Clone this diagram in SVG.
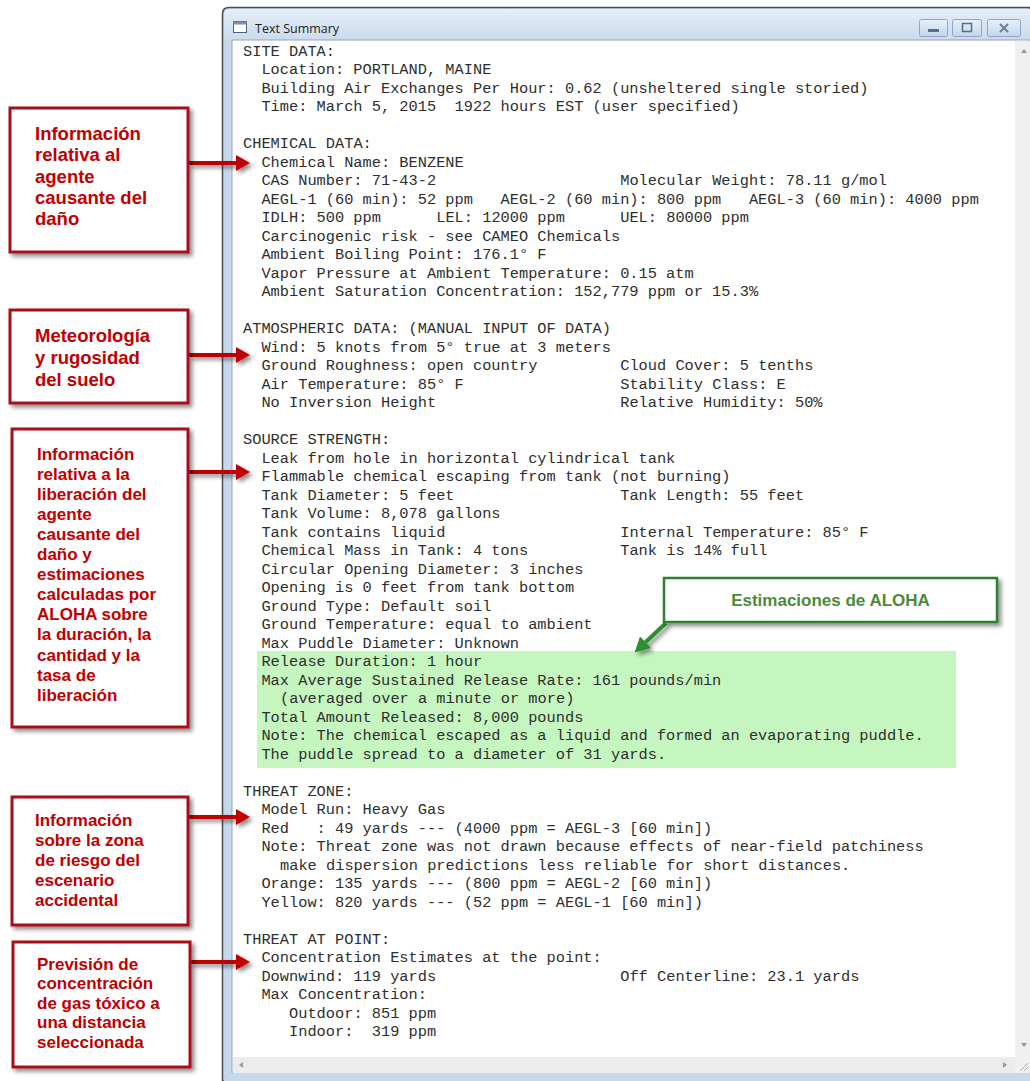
<svg xmlns="http://www.w3.org/2000/svg" width="1030" height="1081" viewBox="0 0 1030 1081">
  <style>
    .mono { font-family: "Liberation Mono", "Courier New", monospace; font-size: 15.33px; fill: #2e2e2e; white-space: pre; }
    .lbl { font-family: "Liberation Sans", Arial, sans-serif; font-weight: bold; fill: #c00000; }
    .lbl-a { font-size: 18.5px; }
    .lbl-b { font-size: 17px; }
    .box-red { fill: #ffffff; stroke: #a8101a; stroke-width: 3; }
    .box-green { fill: #ffffff; stroke: #2f7f33; stroke-width: 2.5; }
    .arrow-red { stroke: #c00000; stroke-width: 4; fill: none; }
    .arrow-green { stroke: #2f8f2f; stroke-width: 4; fill: none; }
    .btn { fill: url(#btnGrad); stroke: #8da6c4; stroke-width: 1; }
    .title { font-family: "Open Sans", "Noto Sans", sans-serif; font-size: 12.5px; fill: #1e1e1e; }
    .sb-glyph { fill: #9a9a9a; }
  </style>
  <defs>
    <linearGradient id="titleGrad" x1="0" y1="0" x2="0" y2="1">
      <stop offset="0" stop-color="#e6eef8"/>
      <stop offset="1" stop-color="#c9dbee"/>
    </linearGradient>
    <linearGradient id="btnGrad" x1="0" y1="0" x2="0" y2="1">
      <stop offset="0" stop-color="#e8f0f9"/>
      <stop offset="1" stop-color="#c4d6ea"/>
    </linearGradient>
    <filter id="shadow" x="-10%" y="-10%" width="130%" height="130%">
      <feDropShadow dx="3" dy="3" stdDeviation="2" flood-color="#000" flood-opacity="0.45"/>
    </filter>
    <filter id="soft" x="-5%" y="-5%" width="110%" height="110%">
      <feGaussianBlur stdDeviation="1.5"/>
    </filter>
    <marker id="headRed" markerUnits="userSpaceOnUse" viewBox="0 0 14 16" refX="0" refY="8" markerWidth="14" markerHeight="16" orient="auto">
      <path d="M0,0 L14,8 L0,16 z" fill="#c00000"/>
    </marker>
    <marker id="headGreen" markerUnits="userSpaceOnUse" viewBox="0 0 15 16" refX="0" refY="8" markerWidth="15" markerHeight="16" orient="auto">
      <path d="M0,0 L15,8 L0,16 z" fill="#2f8f2f"/>
    </marker>
  </defs>

  <rect x="0" y="0" width="1030" height="1081" fill="#ffffff"/>

  <!-- application window -->
  <g id="window">
    <path d="M222.5,1081 V14 Q222.5,7.5 229,7.5 H1030 V1081 Z" fill="#c5d8ec" stroke="#4c4c4c" stroke-width="1.5"/>
    <path d="M224,40 V15 Q224,9 230,9 H1030 V40 Z" fill="url(#titleGrad)"/>
    <!-- window icon -->
    <rect x="233.5" y="21.5" width="13" height="11" fill="#ffffff" stroke="#55606e" stroke-width="1"/>
    <rect x="233.5" y="21.5" width="13" height="3" fill="#7d93ad"/>
    <text class="title" x="255" y="33">Text Summary</text>
    <!-- caption buttons -->
    <rect class="btn" x="919.5" y="19.5" width="28" height="17" rx="2"/>
    <rect x="928" y="29" width="11" height="3" fill="#5a6e86"/>
    <rect class="btn" x="952.5" y="19.5" width="29" height="17" rx="2"/>
    <rect x="962.5" y="23.5" width="9" height="8" fill="none" stroke="#5a6e86" stroke-width="1.5"/>
    <rect class="btn" x="987.5" y="19.5" width="33" height="17" rx="2"/>
    <path d="M1000,24 L1008,32 M1008,24 L1000,32" stroke="#6b7f98" stroke-width="2"/>
    <!-- client area -->
    <rect x="232" y="40" width="798" height="1033" fill="#ffffff" stroke="#9aa6b4" stroke-width="1"/>
    <!-- vertical scrollbar -->
    <rect x="1015" y="41" width="15" height="1016" fill="#f0f0f0"/>
    <path d="M1021,53 L1024,49 L1027,53 Z" class="sb-glyph"/>
    <path d="M1021,1043 L1024,1047 L1027,1043 Z" class="sb-glyph"/>
    <!-- horizontal scrollbar -->
    <rect x="233" y="1057" width="782" height="16" fill="#ececec"/>
    <path d="M243,1062 L239,1065 L243,1068 Z" class="sb-glyph"/>
    <path d="M1003,1062 L1007,1065 L1003,1068 Z" class="sb-glyph"/>
    <rect x="1015" y="1057" width="15" height="16" fill="#f0f0f0"/>
    <path d="M1020,1071 L1028,1063 M1024,1071 L1028,1067" stroke="#b0b0b0" stroke-width="1"/>
    <rect x="224" y="1073" width="806" height="8" fill="#c5d8ec"/>
  </g>

  <!-- highlighted ALOHA estimates -->
  <rect id="estimates-band" x="257" y="651" width="699" height="117" fill="#c6f6c0"/>

  <!-- summary text -->
  <g id="summary-text">
    <text class="mono" xml:space="preserve"><tspan x="243" y="55.5">SITE DATA:</tspan><tspan x="261.4" y="74">Location: PORTLAND, MAINE</tspan><tspan x="261.4" y="92.5">Building Air Exchanges Per Hour: 0.62 (unsheltered single storied)</tspan><tspan x="261.4" y="111">Time: March 5, 2015  1922 hours EST (user specified)</tspan><tspan x="243" y="148">CHEMICAL DATA:</tspan><tspan x="261.4" y="166.5">Chemical Name: BENZENE</tspan><tspan x="261.4" y="185">CAS Number: 71-43-2</tspan><tspan x="620.2" y="185">Molecular Weight: 78.11 g/mol</tspan><tspan x="261.4" y="203.5">AEGL-1 (60 min): 52 ppm   AEGL-2 (60 min): 800 ppm   AEGL-3 (60 min): 4000 ppm</tspan><tspan x="261.4" y="222">IDLH: 500 ppm</tspan><tspan x="436.2" y="222">LEL: 12000 ppm</tspan><tspan x="620.2" y="222">UEL: 80000 ppm</tspan><tspan x="261.4" y="240.5">Carcinogenic risk - see CAMEO Chemicals</tspan><tspan x="261.4" y="259">Ambient Boiling Point: 176.1° F</tspan><tspan x="261.4" y="277.5">Vapor Pressure at Ambient Temperature: 0.15 atm</tspan><tspan x="261.4" y="296">Ambient Saturation Concentration: 152,779 ppm or 15.3%</tspan><tspan x="243" y="333">ATMOSPHERIC DATA: (MANUAL INPUT OF DATA)</tspan><tspan x="261.4" y="351.5">Wind: 5 knots from 5° true at 3 meters</tspan><tspan x="261.4" y="370">Ground Roughness: open country</tspan><tspan x="620.2" y="370">Cloud Cover: 5 tenths</tspan><tspan x="261.4" y="388.5">Air Temperature: 85° F</tspan><tspan x="620.2" y="388.5">Stability Class: E</tspan><tspan x="261.4" y="407">No Inversion Height</tspan><tspan x="620.2" y="407">Relative Humidity: 50%</tspan><tspan x="243" y="444">SOURCE STRENGTH:</tspan><tspan x="261.4" y="462.5">Leak from hole in horizontal cylindrical tank</tspan><tspan x="261.4" y="481">Flammable chemical escaping from tank (not burning)</tspan><tspan x="261.4" y="499.5">Tank Diameter: 5 feet</tspan><tspan x="620.2" y="499.5">Tank Length: 55 feet</tspan><tspan x="261.4" y="518">Tank Volume: 8,078 gallons</tspan><tspan x="261.4" y="536.5">Tank contains liquid</tspan><tspan x="620.2" y="536.5">Internal Temperature: 85° F</tspan><tspan x="261.4" y="555">Chemical Mass in Tank: 4 tons</tspan><tspan x="620.2" y="555">Tank is 14% full</tspan><tspan x="261.4" y="573.5">Circular Opening Diameter: 3 inches</tspan><tspan x="261.4" y="592">Opening is 0 feet from tank bottom</tspan><tspan x="261.4" y="610.5">Ground Type: Default soil</tspan><tspan x="261.4" y="629">Ground Temperature: equal to ambient</tspan><tspan x="261.4" y="647.5">Max Puddle Diameter: Unknown</tspan><tspan x="261.4" y="666">Release Duration: 1 hour</tspan><tspan x="261.4" y="684.5">Max Average Sustained Release Rate: 161 pounds/min</tspan><tspan x="280" y="703">(averaged over a minute or more)</tspan><tspan x="261.4" y="721.5">Total Amount Released: 8,000 pounds</tspan><tspan x="261.4" y="740">Note: The chemical escaped as a liquid and formed an evaporating puddle.</tspan><tspan x="261.4" y="758.5">The puddle spread to a diameter of 31 yards.</tspan><tspan x="243" y="795.5">THREAT ZONE:</tspan><tspan x="261.4" y="814">Model Run: Heavy Gas</tspan><tspan x="261.4" y="832.5">Red   : 49 yards --- (4000 ppm = AEGL-3 [60 min])</tspan><tspan x="261.4" y="851">Note: Threat zone was not drawn because effects of near-field patchiness</tspan><tspan x="280" y="869.5">make dispersion predictions less reliable for short distances.</tspan><tspan x="261.4" y="888">Orange: 135 yards --- (800 ppm = AEGL-2 [60 min])</tspan><tspan x="261.4" y="906.5">Yellow: 820 yards --- (52 ppm = AEGL-1 [60 min])</tspan><tspan x="243" y="943.5">THREAT AT POINT:</tspan><tspan x="261.4" y="962">Concentration Estimates at the point:</tspan><tspan x="261.4" y="980.5">Downwind: 119 yards</tspan><tspan x="620.2" y="980.5">Off Centerline: 23.1 yards</tspan><tspan x="261.4" y="999">Max Concentration:</tspan><tspan x="289" y="1017.5">Outdoor: 851 ppm</tspan><tspan x="289" y="1036">Indoor:  319 ppm</tspan></text>
  </g>

  <!-- connectors -->
  <g id="connectors" filter="url(#shadow)">
    <line class="arrow-red" x1="189" y1="163" x2="236" y2="163" marker-end="url(#headRed)"/>
    <line class="arrow-red" x1="189" y1="355" x2="236" y2="355" marker-end="url(#headRed)"/>
    <line class="arrow-red" x1="189" y1="472" x2="236" y2="472" marker-end="url(#headRed)"/>
    <line class="arrow-red" x1="189" y1="817" x2="236" y2="817" marker-end="url(#headRed)"/>
    <line class="arrow-red" x1="190" y1="962" x2="236" y2="962" marker-end="url(#headRed)"/>
    <line class="arrow-green" x1="666" y1="623" x2="645.5" y2="642.2" marker-end="url(#headGreen)"/>
  </g>

  <!-- callout: chemical data -->
  <g id="note-chemical">
    <rect class="box-red" x="10" y="108" width="178" height="144" filter="url(#shadow)"/>
    <text class="lbl lbl-a"><tspan x="35" y="140">Información</tspan><tspan x="35" y="161.3">relativa al</tspan><tspan x="35" y="182.6">agente</tspan><tspan x="35" y="203.9">causante del</tspan><tspan x="35" y="225.2">daño</tspan></text>
  </g>

  <!-- callout: atmospheric data -->
  <g id="note-weather">
    <rect class="box-red" x="10" y="310" width="178" height="93" filter="url(#shadow)"/>
    <text class="lbl lbl-a"><tspan x="35" y="341.5">Meteorología</tspan><tspan x="35" y="363.7">y rugosidad</tspan><tspan x="35" y="385.9">del suelo</tspan></text>
  </g>

  <!-- callout: source strength -->
  <g id="note-source">
    <rect class="box-red" x="12" y="429" width="176" height="298" filter="url(#shadow)"/>
    <text class="lbl lbl-b"><tspan x="37" y="459.5">Información</tspan><tspan x="37" y="479.6">relativa a la</tspan><tspan x="37" y="499.7">liberación del</tspan><tspan x="37" y="519.8">agente</tspan><tspan x="37" y="539.9">causante del</tspan><tspan x="37" y="560">daño y</tspan><tspan x="37" y="580.1">estimaciones</tspan><tspan x="37" y="600.2">calculadas por</tspan><tspan x="37" y="620.3">ALOHA sobre</tspan><tspan x="37" y="640.4">la duración, la</tspan><tspan x="37" y="660.5">cantidad y la</tspan><tspan x="37" y="680.6">tasa de</tspan><tspan x="37" y="700.7">liberación</tspan></text>
  </g>

  <!-- callout: threat zone -->
  <g id="note-threat-zone">
    <rect class="box-red" x="12" y="797" width="176" height="128" filter="url(#shadow)"/>
    <text class="lbl lbl-b"><tspan x="35" y="826">Información</tspan><tspan x="35" y="846">sobre la zona</tspan><tspan x="35" y="866">de riesgo del</tspan><tspan x="35" y="886">escenario</tspan><tspan x="35" y="906">accidental</tspan></text>
  </g>

  <!-- callout: threat at point -->
  <g id="note-threat-point">
    <rect class="box-red" x="13" y="942" width="177" height="125" filter="url(#shadow)"/>
    <text class="lbl lbl-b"><tspan x="37" y="969.5">Previsión de</tspan><tspan x="37" y="989.1">concentración</tspan><tspan x="37" y="1008.7">de gas tóxico a</tspan><tspan x="37" y="1028.3">una distancia</tspan><tspan x="37" y="1047.9">seleccionada</tspan></text>
  </g>

  <!-- callout: ALOHA estimates -->
  <g id="note-estimates">
    <rect class="box-green" x="664" y="578" width="333" height="44" filter="url(#shadow)"/>
    <text x="830.5" y="606" text-anchor="middle" font-family="Liberation Sans, Arial, sans-serif" font-weight="bold" font-size="17px" fill="#4b8a3a">Estimaciones de ALOHA</text>
  </g>
</svg>
